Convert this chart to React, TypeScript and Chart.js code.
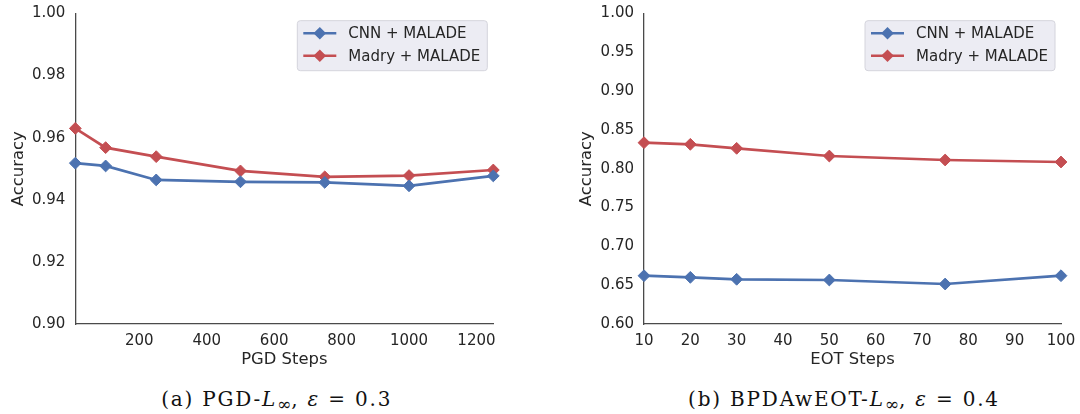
import React, { useEffect, useRef } from "react";
import { Chart, registerables } from "chart.js";

Chart.register(...registerables);

// ---------- data ----------
const pgdSteps = [10, 100, 250, 500, 750, 1000, 1250];
const pgdCnn = [0.9518, 0.9509, 0.9464, 0.9458, 0.9456, 0.9445, 0.9477];
const pgdMadry = [0.963, 0.9568, 0.9539, 0.9493, 0.9474, 0.9478, 0.9496];
const pgdXTicks = [200, 400, 600, 800, 1000, 1200];
const pgdYTicks = [0.9, 0.92, 0.94, 0.96, 0.98, 1.0];

const eotSteps = [10, 20, 30, 50, 75, 100];
const eotCnn = [0.6622, 0.6601, 0.6576, 0.6567, 0.6515, 0.6622];
const eotMadry = [0.8336, 0.8315, 0.8263, 0.8164, 0.8113, 0.8087];
const eotXTicks = [10, 20, 30, 40, 50, 60, 70, 80, 90, 100];
const eotYTicks = [0.6, 0.65, 0.7, 0.75, 0.8, 0.85, 0.9, 0.95, 1.0];

const seriesNames = ["CNN + MALADE", "Madry + MALADE"];
const seriesColors = ["#4c72b0", "#c44e52"];

const FONT = "'DejaVu Sans', sans-serif";
const TEXT = "#262626";

const legendPlugin = {
  id: "customLegend",
  afterDraw(chart: any) {
    const { ctx, chartArea } = chart;
    ctx.save();
    ctx.font = `15px ${FONT}`;
    const labels = chart.data.datasets.map((d: any) => d.label);
    const textW = Math.max(...labels.map((l: string) => ctx.measureText(l).width));
    const padL = 6;
    const lineLen = 33;
    const gap = 12;
    const padR = 7;
    const w = padL + lineLen + gap + textW + padR;
    const h = 50;
    const right = chartArea.right - 6;
    const left = right - w;
    const top = chartArea.top + 7.2;
    const r = 3;
    ctx.beginPath();
    ctx.moveTo(left + r, top);
    ctx.lineTo(left + w - r, top);
    ctx.quadraticCurveTo(left + w, top, left + w, top + r);
    ctx.lineTo(left + w, top + h - r);
    ctx.quadraticCurveTo(left + w, top + h, left + w - r, top + h);
    ctx.lineTo(left + r, top + h);
    ctx.quadraticCurveTo(left, top + h, left, top + h - r);
    ctx.lineTo(left, top + r);
    ctx.quadraticCurveTo(left, top, left + r, top);
    ctx.closePath();
    ctx.fillStyle = "rgba(234,234,242,0.92)";
    ctx.fill();
    ctx.strokeStyle = "#d4d4dc";
    ctx.lineWidth = 1;
    ctx.stroke();
    chart.data.datasets.forEach((d: any, i: number) => {
      const cy = top + 12.6 + i * 22.4;
      const x0 = left + padL;
      ctx.strokeStyle = d.borderColor;
      ctx.lineWidth = 2.6;
      ctx.beginPath();
      ctx.moveTo(x0, cy);
      ctx.lineTo(x0 + lineLen, cy);
      ctx.stroke();
      const cx = x0 + lineLen / 2;
      const rr = 6.3;
      ctx.fillStyle = d.borderColor;
      ctx.beginPath();
      ctx.moveTo(cx - rr, cy);
      ctx.lineTo(cx, cy - rr);
      ctx.lineTo(cx + rr, cy);
      ctx.lineTo(cx, cy + rr);
      ctx.closePath();
      ctx.fill();
      ctx.fillStyle = TEXT;
      ctx.textBaseline = "middle";
      ctx.textAlign = "left";
      ctx.fillText(d.label, x0 + lineLen + gap, cy + 1);
    });
    ctx.restore();
  },
};

function makeDataset(label: string, color: string, xs: number[], ys: number[]) {
  return {
    label,
    data: xs.map((x, i) => ({ x, y: ys[i] })),
    borderColor: color,
    backgroundColor: color,
    borderWidth: 2.7,
    pointStyle: "rectRot",
    pointRadius: 5.9,
    pointBorderWidth: 1,
    pointBackgroundColor: color,
    pointBorderColor: color,
    tension: 0,
    clip: false as any,
  };
}

type Cfg = {
  xs: number[];
  cnn: number[];
  madry: number[];
  xMin: number;
  xMax: number;
  xTicks: number[];
  yMin: number;
  yMax: number;
  yTicks: number[];
  xTitle: string;
  padLeft: number;
  padRight: number;
};

function LineChart({ cfg }: { cfg: Cfg }) {
  const ref = useRef<HTMLCanvasElement | null>(null);
  useEffect(() => {
    if (!ref.current) return;
    const chart = new Chart(ref.current, {
      type: "line",
      data: {
        datasets: [
          makeDataset(seriesNames[0], seriesColors[0], cfg.xs, cfg.cnn),
          makeDataset(seriesNames[1], seriesColors[1], cfg.xs, cfg.madry),
        ],
      },
      options: {
        animation: false,
        responsive: false,
        devicePixelRatio: 1,
        layout: { padding: { left: cfg.padLeft, right: cfg.padRight, top: 13.5, bottom: 2 } },
        plugins: { legend: { display: false }, tooltip: { enabled: false } },
        scales: {
          x: {
            type: "linear",
            min: cfg.xMin,
            max: cfg.xMax,
            afterBuildTicks: (s: any) => {
              s.ticks = cfg.xTicks.map((v) => ({ value: v }));
            },
            afterFit: (s: any) => {
              s.height = 46;
              s.paddingLeft = 0;
              s.paddingRight = 0;
              s.paddingTop = 0;
              s.paddingBottom = 0;
            },
            grid: { display: false, drawTicks: false },
            border: { display: true, color: "#4a4a4a", width: 1.3 },
            ticks: {
              padding: 8,
              color: TEXT,
              font: { family: FONT, size: 15 },
              maxRotation: 0,
              autoSkip: false,
              callback: (v: any) => String(v),
            },
            title: {
              display: true,
              text: cfg.xTitle,
              color: TEXT,
              font: { family: FONT, size: 16.4 },
              padding: { top: 0, bottom: 0 },
            },
          },
          y: {
            type: "linear",
            min: cfg.yMin,
            max: cfg.yMax,
            afterBuildTicks: (s: any) => {
              s.ticks = cfg.yTicks.map((v) => ({ value: v }));
            },
            afterFit: (s: any) => {
              s.width = 75.3;
              s.paddingLeft = 0;
              s.paddingRight = 0;
              s.paddingTop = 0;
              s.paddingBottom = 0;
            },
            grid: { display: false, drawTicks: false },
            border: { display: true, color: "#4a4a4a", width: 1.3 },
            ticks: {
              padding: 10,
              color: TEXT,
              font: { family: FONT, size: 15 },
              callback: (v: any) => Number(v).toFixed(2),
            },
            title: {
              display: true,
              text: "Accuracy",
              color: TEXT,
              font: { family: FONT, size: 16.4 },
              padding: { top: 8.5, bottom: 0 },
            },
          },
        },
      },
      plugins: [legendPlugin],
    } as any);
    return () => chart.destroy();
  }, [cfg]);
  return <canvas ref={ref} width={540} height={372} style={{ display: "block", width: 540, height: 372 }} />;
}

const leftCfg: Cfg = {
  xs: pgdSteps,
  cnn: pgdCnn,
  madry: pgdMadry,
  xMin: 10,
  xMax: 1250,
  xTicks: pgdXTicks,
  yMin: 0.9,
  yMax: 1.0,
  yTicks: pgdYTicks,
  xTitle: "PGD Steps",
  padLeft: 0,
  padRight: 46.7,
};

const rightCfg: Cfg = {
  xs: eotSteps,
  cnn: eotCnn,
  madry: eotMadry,
  xMin: 10,
  xMax: 100,
  xTicks: eotXTicks,
  yMin: 0.6,
  yMax: 1.0,
  yTicks: eotYTicks,
  xTitle: "EOT Steps",
  padLeft: 28.7,
  padRight: 19,
};

const capStyle: React.CSSProperties = {
  position: "absolute",
  top: 385,
  width: 500,
  textAlign: "center",
  fontFamily: "'DejaVu Serif', serif",
  fontSize: 20,
  letterSpacing: "1.8px",
  color: "#111",
  whiteSpace: "nowrap",
  lineHeight: "28px",
};

const subStyle: React.CSSProperties = { fontSize: 17, verticalAlign: "-4px", letterSpacing: 0 };

export default function App() {
  return (
    <div style={{ position: "fixed", left: 0, top: 0, width: 1080, height: 414, background: "#fff", overflow: "hidden" }}>
      <div style={{ position: "absolute", left: 0, top: 0 }}>
        <LineChart cfg={leftCfg} />
      </div>
      <div style={{ position: "absolute", left: 540, top: 0 }}>
        <LineChart cfg={rightCfg} />
      </div>
      <div style={{ ...capStyle, left: 276.7 - 250 }}>
        (a) PGD-<i>L</i>
        <span style={subStyle}>∞</span>, <i>ε</i> = 0.3
      </div>
      <div style={{ ...capStyle, left: 844 - 250 }}>
        (b) BPDAwEOT-<i>L</i>
        <span style={subStyle}>∞</span>, <i>ε</i> = 0.4
      </div>
    </div>
  );
}
